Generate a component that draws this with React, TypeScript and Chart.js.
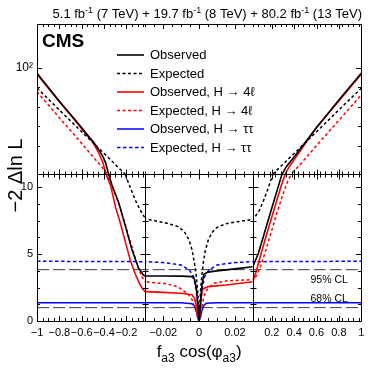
import { useEffect, useRef } from "react";
import { Chart, registerables } from "chart.js";

Chart.register(...registerables);

const FONT = '"Liberation Sans", Arial, Helvetica, sans-serif';

// ---- axes (broken x axis in three panels, y axis: log on top, linear below) ----
const panelXMin = [-1, -0.03, 0.03];
const panelXMax = [-0.03, 0.03, 1];
const panelXWeight = [110, 109, 110];
const xTicksLeft = [-1, -0.8, -0.6, -0.4, -0.2];
const xTicksMid = [-0.02, 0, 0.02];
const xTicksRight = [0.2, 0.4, 0.6, 0.8, 1];
const xMinorStep = [0.05, 0.005, 0.05];
const yBreak = 11;
const yTopMax = 250;
const yTicksBottom = [0, 5, 10];
const yMinorBottom = [1.25, 2.5, 3.75, 6.25, 7.5, 8.75];
const yTicksTop = [100];
const yMinorTop = [19.75, 29.63, 44.44, 66.67];

// ---- data: -2 Delta ln L vs fa3 cos(phi_a3) ----
const obsCombX = [-1, -0.8, -0.665, -0.533, -0.5, -0.444, -0.41, -0.385, -0.36, -0.33, -0.268, -0.209, -0.153, -0.092, -0.048, -0.03, -0.02, -0.01, -0.004, -0.0025, -0.0015, -0.0008, 0, 0.0008, 0.0015, 0.0026, 0.005, 0.01, 0.02, 0.03, 0.08, 0.124, 0.168, 0.213, 0.257, 0.295, 0.33, 0.38, 0.447, 0.595, 0.8, 1];
const obsCombY = [89.6, 50, 34.5, 23.8, 21.8, 18.1, 15.8, 13.8, 11, 10.2, 8.83, 7.1, 5.4, 3.97, 3.44, 3.37, 3.37, 3.36, 3.32, 3.1, 2.4, 1.3, 0, 1.4, 2.6, 3.5, 3.66, 3.75, 3.9, 4.06, 5.07, 6.31, 7.56, 8.81, 10.05, 11.1, 12.8, 14.8, 18.1, 28.5, 51.3, 89.6];

const expCombX = [-1, -0.8, -0.6, -0.45, -0.35, -0.28, -0.212, -0.18, -0.121, -0.077, -0.03, -0.027, -0.02, -0.015, -0.012, -0.0084, -0.0057, -0.0039, -0.0026, -0.0015, -0.0007, 0, 0.0007, 0.0015, 0.0025, 0.0035, 0.005, 0.007, 0.01, 0.015, 0.02, 0.025, 0.03, 0.05, 0.09, 0.13, 0.17, 0.21, 0.3, 0.45, 0.6, 0.8, 1];
const expCombY = [66, 41.7, 26.5, 18.9, 15.1, 12.8, 11, 10.3, 9.06, 8.31, 7.65, 7.56, 7.38, 7.2, 7.08, 6.71, 6.09, 5.31, 4.34, 3.31, 2.0, 0, 2.1, 3.4, 4.5, 5.3, 6.0, 6.6, 7.0, 7.28, 7.4, 7.5, 7.6, 7.8, 8.3, 9.1, 10.0, 11, 13.5, 18.9, 26.5, 41.8, 65.5];

const obs4lX = [-1, -0.8, -0.665, -0.533, -0.5, -0.45, -0.41, -0.383, -0.34, -0.297, -0.253, -0.209, -0.165, -0.12, -0.08, -0.05, -0.03, -0.02, -0.01, -0.004, -0.0025, -0.0017, -0.001, 0, 0.0008, 0.0017, 0.003, 0.005, 0.015, 0.03, 0.06, 0.1, 0.145, 0.19, 0.235, 0.28, 0.32, 0.35, 0.45, 0.6, 0.8, 1];
const obs4lY = [88, 49.5, 34, 23.3, 21.3, 17.3, 13.9, 11, 10.1, 8.5, 7.3, 5.9, 4.55, 3.5, 2.75, 2.35, 2.2, 2.14, 2.08, 1.97, 1.7, 1.2, 0.55, 0, 1.3, 2.3, 2.45, 2.57, 2.69, 2.94, 3.7, 4.9, 6.25, 7.5, 8.75, 10.0, 11, 12.5, 17.6, 29, 50.3, 88];

const exp4lX = [-1, -0.8, -0.6, -0.45, -0.37, -0.32, -0.268, -0.209, -0.151, -0.107, -0.063, -0.03, -0.025, -0.019, -0.012, -0.0066, -0.0038, -0.002, 0, 0.001, 0.0026, 0.0044, 0.0081, 0.015, 0.03, 0.06, 0.1, 0.15, 0.2, 0.25, 0.3, 0.34, 0.374, 0.45, 0.6, 0.8, 1];
const exp4lY = [61, 35.5, 20.8, 13.8, 11, 9.9, 8.8, 7.19, 5.56, 4.32, 3.32, 2.94, 2.86, 2.8, 2.57, 2.07, 1.57, 0.82, 0, 0.7, 1.82, 2.32, 2.82, 3.0, 3.1, 3.35, 4.1, 5.4, 6.8, 8.2, 9.5, 10.4, 11, 13.3, 19.9, 33.6, 57];

const obsTauX = [-1, -0.03, -0.01, -0.004, -0.0025, -0.0015, -0.0008, 0, 0.0008, 0.0015, 0.0025, 0.004, 0.01, 0.03, 1];
const obsTauY = [1.37, 1.37, 1.36, 1.3, 1.1, 0.7, 0.25, 0, 0.3, 0.75, 1.15, 1.32, 1.36, 1.37, 1.37];

const expTauX = [-1, -0.03, -0.02, -0.01, -0.0055, -0.003, -0.0015, -0.0006, 0, 0.0006, 0.0015, 0.003, 0.0055, 0.01, 0.02, 0.03, 1];
const expTauY = [4.47, 4.44, 4.37, 4.19, 3.82, 3.3, 2.2, 1.0, 0, 1.0, 2.2, 3.3, 3.82, 4.19, 4.37, 4.44, 4.47];

const clX = [-1, 1];
const cl95Y = [3.84, 3.84];
const cl68Y = [1, 1];

const legendLabels = [
  "Observed",
  "Expected",
  "Observed, H \u2192 4\u2113",
  "Expected, H \u2192 4\u2113",
  "Observed, H \u2192 \u03c4\u03c4",
  "Expected, H \u2192 \u03c4\u03c4",
];

type Curve = { label: string; xs: number[]; ys: number[]; color: string; dash: number[]; width: number };

const curves: Curve[] = [
  { label: legendLabels[0], xs: obsCombX, ys: obsCombY, color: "#000000", dash: [], width: 1.6 },
  { label: legendLabels[1], xs: expCombX, ys: expCombY, color: "#000000", dash: [3, 2.5], width: 1.5 },
  { label: legendLabels[2], xs: obs4lX, ys: obs4lY, color: "#ff0000", dash: [], width: 1.6 },
  { label: legendLabels[3], xs: exp4lX, ys: exp4lY, color: "#ff0000", dash: [3, 2.5], width: 1.5 },
  { label: legendLabels[4], xs: obsTauX, ys: obsTauY, color: "#0000ff", dash: [], width: 1.5 },
  { label: legendLabels[5], xs: expTauX, ys: expTauY, color: "#0000ff", dash: [3.5, 2.5], width: 1.5 },
];

const xIds = ["xL", "xM", "xR"];
const xMajors = [xTicksLeft, xTicksMid, xTicksRight];

function fmt(v: number) {
  if (v === 0) return "0";
  return (v < 0 ? "\u2212" : "") + String(Math.abs(v));
}

function minorTicks(i: number) {
  const out: number[] = [];
  const step = xMinorStep[i];
  const n = Math.round((panelXMax[i] - panelXMin[i]) / step);
  for (let k = 0; k <= n; k++) {
    const v = panelXMin[i] + k * step;
    if (!xMajors[i].some((m) => Math.abs(m - v) < step / 10)) out.push(v);
  }
  return out;
}

function drawParts(ctx: CanvasRenderingContext2D, parts: any[], x: number, y: number, align: string) {
  let total = 0;
  const widths = parts.map((p) => {
    ctx.font = `${p[3] || ""} ${p[1]}px ${FONT}`;
    const w = ctx.measureText(p[0]).width;
    total += w;
    return w;
  });
  let cx = align === "right" ? x - total : align === "center" ? x - total / 2 : x;
  ctx.textAlign = "left";
  parts.forEach((p, i) => {
    ctx.font = `${p[3] || ""} ${p[1]}px ${FONT}`;
    ctx.fillText(p[0], cx, y + p[2]);
    cx += widths[i];
  });
}

const panelClip = {
  id: "panelClip",
  beforeDatasetDraw(chart: any, args: any) {
    const ds = chart.data.datasets[args.index];
    const xs = chart.scales[ds.xAxisID];
    const ys = chart.scales[ds.yAxisID];
    const ctx = chart.ctx;
    ctx.save();
    ctx.beginPath();
    ctx.rect(xs.left, ys.top, xs.right - xs.left, ys.bottom - ys.top);
    ctx.clip();
  },
  afterDatasetDraw(chart: any) {
    chart.ctx.restore();
  },
};

const decor = {
  id: "decor",
  afterDatasetsDraw(chart: any) {
    const ctx: CanvasRenderingContext2D = chart.ctx;
    const xs = xIds.map((id) => chart.scales[id]);
    const yT = chart.scales.yTop;
    const yB = chart.scales.yBot;
    const L = Math.round(xs[0].left), R = Math.round(xs[2].right);
    const T = Math.round(yT.top), M = Math.round(yT.bottom), B = Math.round(yB.bottom);
    const s = (v: number) => Math.round(v) + 0.5;
    ctx.save();
    ctx.strokeStyle = "#000";
    ctx.lineWidth = 1;
    ctx.setLineDash([]);
    ctx.beginPath();
    ctx.rect(L + 0.5, T + 0.5, R - L, B - T);
    ctx.moveTo(L, M + 0.5);
    ctx.lineTo(R, M + 0.5);
    for (const i of [0, 1]) {
      const x = s(xs[i].right);
      ctx.moveTo(x, M);
      ctx.lineTo(x, B);
    }
    xs.forEach((sc: any, i: number) => {
      const put = (v: number, len: number) => {
        const px = s(sc.getPixelForValue(v));
        ctx.moveTo(px, T);
        ctx.lineTo(px, T + len);
        ctx.moveTo(px, M + 0.5 - len);
        ctx.lineTo(px, M + 0.5 + len);
        ctx.moveTo(px, B);
        ctx.lineTo(px, B - len);
      };
      xMajors[i].forEach((v) => put(v, 5));
      minorTicks(i).forEach((v) => put(v, 3));
    });
    const putY = (sc: any, v: number, len: number, bottom: boolean) => {
      const py = s(sc.getPixelForValue(v));
      ctx.moveTo(L, py);
      ctx.lineTo(L + len, py);
      ctx.moveTo(R, py);
      ctx.lineTo(R - len, py);
      if (bottom) {
        for (const i of [0, 1]) {
          const x = s(xs[i].right);
          ctx.moveTo(x - len, py);
          ctx.lineTo(x + len, py);
        }
      }
    };
    yTicksBottom.forEach((v) => putY(yB, v, 5, true));
    yMinorBottom.forEach((v) => putY(yB, v, 3, true));
    yTicksTop.forEach((v) => putY(yT, v, 5, false));
    yMinorTop.forEach((v) => putY(yT, v, 3, false));
    ctx.stroke();
    ctx.restore();
  },
  afterDraw(chart: any) {
    const ctx: CanvasRenderingContext2D = chart.ctx;
    const xs = xIds.map((id) => chart.scales[id]);
    const yT = chart.scales.yTop;
    const yB = chart.scales.yBot;
    ctx.save();
    ctx.fillStyle = "#000";
    ctx.textBaseline = "alphabetic";
    // lumi title
    drawParts(
      ctx,
      [
        ["5.1 fb", 13, 0], ["-1", 9, -5], [" (7 TeV) + 19.7 fb", 13, 0], ["-1", 9, -5],
        [" (8 TeV) + 80.2 fb", 13, 0], ["-1", 9, -5], [" (13 TeV)", 13, 0],
      ],
      362, 17.5, "right"
    );
    // CMS
    drawParts(ctx, [["CMS", 19, 0, "bold"]], xs[0].left + 5, 47, "left");
    // legend
    curves.forEach((c, i) => {
      const y = 55 + i * 18.5;
      ctx.save();
      ctx.strokeStyle = c.color;
      ctx.lineWidth = c.width;
      ctx.setLineDash(c.dash);
      ctx.beginPath();
      ctx.moveTo(117, y);
      ctx.lineTo(144, y);
      ctx.stroke();
      ctx.restore();
      ctx.textBaseline = "middle";
      drawParts(ctx, [[c.label, 13, 0.5]], 150, y, "left");
      ctx.textBaseline = "alphabetic";
    });
    // CL labels
    const xr = xs[2].getPixelForValue(0.88);
    drawParts(ctx, [["95% CL", 10.5, 0]], xr, yB.getPixelForValue(3.84) + 13, "right");
    drawParts(ctx, [["68% CL", 10.5, 0]], xr, yB.getPixelForValue(1) - 6, "right");
    // x title
    const cx = (xs[0].left + xs[2].right) / 2;
    drawParts(
      ctx,
      [["f", 17, 0], ["a3", 12, 5], [" cos(", 17, 0], ["\u03c6", 17, 0], ["a3", 12, 5], [")", 17, 0]],
      cx, 357, "center"
    );
    // y title
    const cy = (yT.top + yB.bottom) / 2 + 3;
    ctx.translate(22, cy);
    ctx.rotate(-Math.PI / 2);
    drawParts(ctx, [["\u22122 \u0394ln L", 20, 0]], 0, 0, "center");
    ctx.restore();
  },
};

function buildConfig(): any {
  const datasets: any[] = [];
  curves.forEach((c) => {
    const pts = c.xs.map((x, k) => ({ x, y: c.ys[k] }));
    xIds.forEach((xid) => {
      ["yTop", "yBot"].forEach((yid) => {
        datasets.push({
          label: c.label,
          data: pts,
          xAxisID: xid,
          yAxisID: yid,
          borderColor: c.color,
          backgroundColor: c.color,
          borderWidth: c.width,
          borderDash: c.dash,
          pointRadius: 0,
          tension: 0,
          fill: false,
        });
      });
    });
  });
  [cl95Y, cl68Y].forEach((ys) => {
    const pts = clX.map((x, k) => ({ x, y: ys[k] }));
    xIds.forEach((xid) => {
      datasets.push({
        label: "CL",
        data: pts,
        xAxisID: xid,
        yAxisID: "yBot",
        borderColor: "#3c3c3c",
        borderWidth: 1,
        borderDash: [12, 4],
        pointRadius: 0,
        tension: 0,
        fill: false,
      });
    });
  });

  const tickFont = { family: FONT, size: 11 };
  const scales: any = {};
  xIds.forEach((id, i) => {
    scales[id] = {
      type: "linear",
      position: "bottom",
      stack: "x",
      stackWeight: panelXWeight[i],
      min: panelXMin[i],
      max: panelXMax[i],
      grid: { display: false, drawTicks: false },
      border: { display: false },
      ticks: {
        font: tickFont,
        color: "#000",
        padding: 5,
        autoSkip: false,
        maxRotation: 0,
        minRotation: 0,
        callback: (v: number) => fmt(v),
      },
      afterBuildTicks: (sc: any) => {
        sc.ticks = xMajors[i].map((v) => ({ value: v }));
      },
      afterFit: (sc: any) => {
        sc.height = 47;
      },
    };
  });
  scales.yBot = {
    type: "linear",
    position: "left",
    stack: "y",
    stackWeight: 147,
    weight: 0,
    min: 0,
    max: yBreak,
    grid: { display: false, drawTicks: false },
    border: { display: false },
    ticks: {
      font: tickFont,
      color: "#000",
      padding: 4,
      autoSkip: false,
      callback: (v: number) => String(v),
    },
    afterBuildTicks: (sc: any) => {
      sc.ticks = yTicksBottom.map((v) => ({ value: v }));
    },
    afterFit: (sc: any) => {
      sc.width = 37;
    },
  };
  scales.yTop = {
    type: "logarithmic",
    position: "left",
    stack: "y",
    stackWeight: 150,
    weight: 1,
    min: yBreak,
    max: yTopMax,
    grid: { display: false, drawTicks: false },
    border: { display: false },
    ticks: {
      font: { family: FONT, size: 12 },
      color: "#000",
      padding: 4,
      autoSkip: false,
      callback: (v: number) => (v === 100 ? "10\u00b2" : ""),
    },
    afterBuildTicks: (sc: any) => {
      sc.ticks = yTicksTop.map((v) => ({ value: v }));
    },
    afterFit: (sc: any) => {
      sc.width = 37;
    },
  };

  return {
    type: "line",
    data: { datasets },
    options: {
      responsive: false,
      animation: false,
      devicePixelRatio: 1,
      layout: { padding: { left: 0, right: 8, top: 24, bottom: 0 } },
      elements: { point: { radius: 0 }, line: { tension: 0 } },
      plugins: { legend: { display: false }, tooltip: { enabled: false }, title: { display: false } },
      scales,
    },
    plugins: [panelClip, decor],
  };
}

export default function App() {
  const ref = useRef<HTMLCanvasElement>(null);
  useEffect(() => {
    if (!ref.current) return;
    const chart = new Chart(ref.current, buildConfig());
    return () => chart.destroy();
  }, []);
  return (
    <div style={{ position: "absolute", left: 0, top: 0, width: 374, height: 368, background: "#fff" }}>
      <canvas ref={ref} width={374} height={368} style={{ display: "block", width: 374, height: 368 }} />
    </div>
  );
}
